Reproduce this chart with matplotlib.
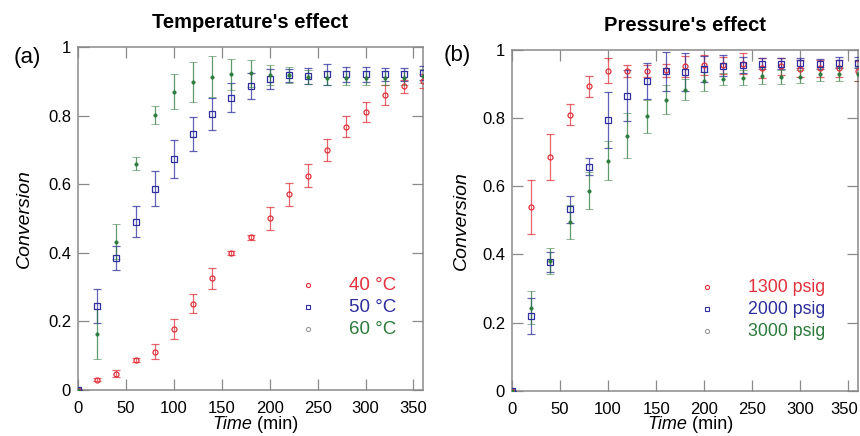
import matplotlib
matplotlib.use("Agg")
import matplotlib.pyplot as plt
from matplotlib import font_manager
from matplotlib.transforms import ScaledTranslation

# ---- data -------------------------------------------------------------
time_min = [0, 20, 40, 60, 80, 100, 120, 140, 160, 180, 200, 220, 240,
            260, 280, 300, 320, 340, 360]

conv_40C = [0, 0.030, 0.047, 0.087, 0.112, 0.178, 0.252, 0.326, 0.400, 0.445,
            0.500, 0.570, 0.625, 0.699, 0.768, 0.810, 0.860, 0.885, 0.900]
err_40C = [0, 0.004, 0.010, 0.006, 0.023, 0.030, 0.028, 0.031, 0.005, 0.007,
           0.034, 0.034, 0.033, 0.032, 0.031, 0.029, 0.030, 0.020, 0.020]

conv_50C = [0, 0.245, 0.384, 0.491, 0.587, 0.673, 0.747, 0.805, 0.852, 0.886,
            0.907, 0.917, 0.915, 0.920, 0.920, 0.920, 0.920, 0.920, 0.925]
err_50C = [0, 0.049, 0.035, 0.046, 0.052, 0.055, 0.050, 0.046, 0.042, 0.038,
           0.028, 0.020, 0.023, 0.030, 0.022, 0.023, 0.020, 0.020, 0.020]

conv_60C = [0, 0.163, 0.432, 0.660, 0.802, 0.870, 0.897, 0.913, 0.920, 0.923,
            0.918, 0.918, 0.913, 0.910, 0.910, 0.910, 0.910, 0.910, 0.915]
err_60C = [0, 0.074, 0.051, 0.018, 0.027, 0.050, 0.058, 0.060, 0.046, 0.040,
           0.030, 0.023, 0.020, 0.020, 0.020, 0.020, 0.020, 0.020, 0.020]

conv_1300 = [0, 0.539, 0.685, 0.810, 0.893, 0.939, 0.939, 0.939, 0.940, 0.952,
             0.956, 0.955, 0.960, 0.947, 0.952, 0.945, 0.947, 0.947, 0.939]
err_1300 = [0, 0.078, 0.068, 0.031, 0.030, 0.037, 0.017, 0.017, 0.020, 0.030,
            0.030, 0.025, 0.030, 0.030, 0.025, 0.025, 0.025, 0.025, 0.030]

conv_2000 = [0, 0.219, 0.378, 0.532, 0.658, 0.795, 0.866, 0.910, 0.937, 0.935,
             0.944, 0.954, 0.956, 0.960, 0.960, 0.962, 0.960, 0.963, 0.963]
err_2000 = [0, 0.054, 0.030, 0.040, 0.025, 0.083, 0.074, 0.053, 0.057, 0.056,
            0.037, 0.030, 0.024, 0.017, 0.017, 0.015, 0.015, 0.017, 0.017]

conv_3000 = [0, 0.244, 0.381, 0.495, 0.587, 0.675, 0.748, 0.805, 0.854, 0.883,
             0.908, 0.915, 0.919, 0.924, 0.920, 0.922, 0.929, 0.929, 0.930]
err_3000 = [0, 0.049, 0.039, 0.050, 0.054, 0.057, 0.066, 0.048, 0.043, 0.031,
            0.027, 0.017, 0.021, 0.025, 0.020, 0.020, 0.020, 0.020, 0.020]

temp_labels = ["40 °C", "50 °C", "60 °C"]
pres_labels = ["1300 psig", "2000 psig", "3000 psig"]
panel_titles = ["Temperature's effect", "Pressure's effect"]
panel_tags = ["(a)", "(b)"]

x_ticks = [0, 50, 100, 150, 200, 250, 300, 350]
y_ticks = [0, 0.2, 0.4, 0.6, 0.8, 1.0]
y_tick_labels = ["0", "0.2", "0.4", "0.6", "0.8", "1"]

# ---- style --------------------------------------------------------------
available = {f.name for f in font_manager.fontManager.ttflist}
base_font = "Liberation Sans" if "Liberation Sans" in available else "DejaVu Sans"
title_font = "Liberation Sans Narrow" if "Liberation Sans Narrow" in available else base_font

plt.rcParams["font.family"] = [base_font, "DejaVu Sans"]

RED = "#e0323c"
BLUE = "#2e2e9e"
GREEN = "#2c7a3c"
FRAME = "#8a8a8a"

series_styles = [
    dict(color=RED, marker="o", ms=3.6, mfc="none", mew=0.9),
    dict(color=BLUE, marker="s", ms=3.8, mfc="none", mew=0.9),
    dict(color=GREEN, marker="o", ms=2.4, mfc=GREEN, mew=0.5),
]
legend_marker_colors = [RED, BLUE, "#9a9a9a"]

fig = plt.figure(figsize=(8.6, 4.36), dpi=100)
ax_a = fig.add_axes([78 / 860, 1 - 390 / 436, 345 / 860, 343 / 436])
ax_b = fig.add_axes([512 / 860, 1 - 390.7 / 436, 346 / 860, 340.7 / 436])

panels = [
    (ax_a, [(conv_40C, err_40C), (conv_50C, err_50C), (conv_60C, err_60C)], temp_labels,
     (349, 285), 13.5),
    (ax_b, [(conv_1300, err_1300), (conv_2000, err_2000), (conv_3000, err_3000)], pres_labels,
     (748, 287), 12.8),
]

for i, (ax, series, labels, (lx, ly), legend_size) in enumerate(panels):
    for (vals, errs), st in zip(series, series_styles):
        eb = ax.errorbar(time_min, vals, yerr=errs, color=st["color"], ecolor=st["color"],
                         elinewidth=0.9, capsize=3.2, capthick=0.9, linestyle="none",
                         marker=st["marker"], ms=st["ms"], mfc=st["mfc"], mec=st["color"],
                         mew=st["mew"], zorder=3)
        for part in eb[1] + eb[2]:
            part.set_alpha(0.75)

    ax.set_xlim(0, 360)
    ax.set_ylim(0, 1)
    ax.set_xticks(x_ticks)
    ax.set_yticks(y_ticks)
    ax.set_yticklabels(y_tick_labels)
    ax.tick_params(direction="in", length=8, width=0.9, color=FRAME, labelsize=12,
                   top=True, right=True, pad=5)
    ax.tick_params(axis="x", pad=8)
    for sp in ax.spines.values():
        sp.set_color(FRAME)
        sp.set_linewidth(1.1)

    ax.set_ylabel("Conversion", fontsize=14, style="italic")
    ax.yaxis.set_label_coords(-0.13 if i == 0 else -0.121, 0.5)

    # x-axis label: italic quantity followed by upright unit
    bbox = ax.get_position()
    cx = (bbox.x0 + bbox.x1) / 2 * 860
    t1 = fig.text((cx - 38) / 860, 1 - 429 / 436, "Time", fontsize=13, style="italic",
                  ha="left", va="baseline")
    ax.annotate(" (min)", xy=(1, 0), xycoords=t1, fontsize=13, ha="left", va="bottom",
                annotation_clip=False)

    ax.set_title(panel_titles[i], fontsize=14.5, fontweight="bold", family=title_font,
                 pad=14)

    # hand-placed legend: small marker followed by coloured label
    text_colors = [RED, BLUE, GREEN]
    for k, lab in enumerate(labels):
        yy = ly + 22 * k
        st = series_styles[k]
        fig.lines.append(plt.Line2D([(lx - 41) / 860], [1 - yy / 436],
                                    transform=fig.transFigure, marker=st["marker"],
                                    ms=3.0, mfc="none", mec=legend_marker_colors[k],
                                    mew=0.8, linestyle="none"))
        fig.text(lx / 860, 1 - yy / 436, lab, color=text_colors[k], fontsize=legend_size,
                 ha="left", va="center")

# keep the last tick label of the right panel inside the canvas
last_lbl = ax_b.get_xticklabels()[-1]
last_lbl.set_transform(last_lbl.get_transform()
                       + ScaledTranslation(-4 / 100, 0, fig.dpi_scale_trans))

fig.text(27 / 860, 1 - 57 / 436, panel_tags[0], fontsize=16, ha="center", va="center")
fig.text(457 / 860, 1 - 55 / 436, panel_tags[1], fontsize=16, ha="center", va="center")

fig.savefig("out.png", dpi=100)
